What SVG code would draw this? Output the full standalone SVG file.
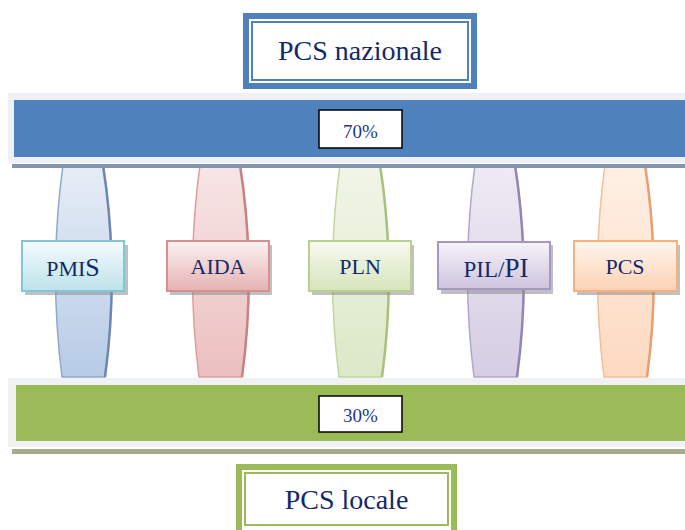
<svg xmlns="http://www.w3.org/2000/svg" width="685" height="530" viewBox="0 0 685 530">
<defs>
<style>
.t{font-family:"Liberation Serif","Times New Roman",serif;fill:#14296a;text-anchor:middle}
.pct{font-family:"Liberation Serif","Times New Roman",serif;fill:#1f3a80;text-anchor:middle;font-size:19px}
.lab{font-size:22px}
.sh{fill:#8c8c8c;opacity:0.55}
.bx{stroke-width:2}
</style>
<linearGradient id="gB" x1="0" y1="0" x2="0" y2="1"><stop offset="0" stop-color="#f5fbfd"/><stop offset="1" stop-color="#bde2eb"/></linearGradient>
<linearGradient id="gR" x1="0" y1="0" x2="0" y2="1"><stop offset="0" stop-color="#fcf2f2"/><stop offset="1" stop-color="#e5b2b2"/></linearGradient>
<linearGradient id="gG" x1="0" y1="0" x2="0" y2="1"><stop offset="0" stop-color="#f7faef"/><stop offset="1" stop-color="#d6e4bc"/></linearGradient>
<linearGradient id="gP" x1="0" y1="0" x2="0" y2="1"><stop offset="0" stop-color="#f6f4f9"/><stop offset="1" stop-color="#cdc4dd"/></linearGradient>
<linearGradient id="gO" x1="0" y1="0" x2="0" y2="1"><stop offset="0" stop-color="#fff6ef"/><stop offset="1" stop-color="#fcd1b3"/></linearGradient>
<linearGradient id="lB" x1="0" y1="0" x2="0" y2="1"><stop offset="0" stop-color="#e6edf6"/><stop offset="1" stop-color="#b7cbe6"/></linearGradient>
<linearGradient id="lR" x1="0" y1="0" x2="0" y2="1"><stop offset="0" stop-color="#f7e6e6"/><stop offset="1" stop-color="#ecbfbf"/></linearGradient>
<linearGradient id="lG" x1="0" y1="0" x2="0" y2="1"><stop offset="0" stop-color="#f1f6e8"/><stop offset="1" stop-color="#dce8c7"/></linearGradient>
<linearGradient id="lP" x1="0" y1="0" x2="0" y2="1"><stop offset="0" stop-color="#eeebf4"/><stop offset="1" stop-color="#d5cde4"/></linearGradient>
<linearGradient id="lO" x1="0" y1="0" x2="0" y2="1"><stop offset="0" stop-color="#fff0e5"/><stop offset="1" stop-color="#fdd9c0"/></linearGradient>
</defs>
<rect width="685" height="530" fill="#ffffff"/>

<g id="connectors">
<g id="lens-pmis">
<path d="M63,165 Q48.5,271 62,377 L105,377 Q119.5,271 103,165 Z" fill="url(#lB)" stroke="#8ea8cf" stroke-width="1.5"/>
<path d="M103,165 Q119.5,271 105,377" fill="none" stroke="#6f88b2" stroke-width="2.5"/>
</g>
<g id="lens-aida">
<path d="M200,165 Q185.5,271 199,377 L242,377 Q256.5,271 240,165 Z" fill="url(#lR)" stroke="#dc9d9d" stroke-width="1.5"/>
<path d="M240,165 Q256.5,271 242,377" fill="none" stroke="#c98282" stroke-width="2.5"/>
</g>
<g id="lens-pln">
<path d="M340,165 Q325.5,271 339,377 L382,377 Q396.5,271 380,165 Z" fill="url(#lG)" stroke="#c2d69e" stroke-width="1.5"/>
<path d="M380,165 Q396.5,271 382,377" fill="none" stroke="#a9c17c" stroke-width="2.5"/>
</g>
<g id="lens-pil">
<path d="M475,165 Q460.5,271 474,377 L517,377 Q531.5,271 515,165 Z" fill="url(#lP)" stroke="#b2a6cc" stroke-width="1.5"/>
<path d="M515,165 Q531.5,271 517,377" fill="none" stroke="#9486b3" stroke-width="2.5"/>
</g>
<g id="lens-pcs">
<path d="M605,165 Q590.5,271 604,377 L647,377 Q661.5,271 645,165 Z" fill="url(#lO)" stroke="#f5be96" stroke-width="1.5"/>
<path d="M645,165 Q661.5,271 647,377" fill="none" stroke="#e6a072" stroke-width="2.5"/>
</g>
</g>

<g id="bar-top">
<rect x="8" y="93" width="680" height="70" fill="#eff1f5"/>
<rect x="12" y="164" width="676" height="4" fill="#8595ad"/>
<rect x="14" y="100" width="675" height="57" fill="#4f81bd"/>
<rect x="319" y="110" width="83" height="38" fill="#ffffff" stroke="#000000" stroke-width="1.5"/>
<text class="pct" x="360.5" y="138">70%</text>
</g>

<g id="bar-bottom">
<rect x="8" y="378" width="680" height="69" fill="#eff1f2"/>
<rect x="12" y="449" width="676" height="5" fill="#a6ad8f"/>
<rect x="16" y="385" width="673" height="56" fill="#9bbb59"/>
<rect x="319" y="396" width="83" height="36" fill="#ffffff" stroke="#000000" stroke-width="1.5"/>
<text class="pct" x="360.5" y="422">30%</text>
</g>

<g id="node-pcs-nazionale">
<rect x="246" y="16" width="228" height="70" fill="#ffffff" stroke="#4f81bd" stroke-width="6"/>
<rect x="252" y="22" width="216" height="58" fill="none" stroke="#4f81bd" stroke-width="2"/>
<text class="t" x="360" y="60" font-size="28">PCS nazionale</text>
</g>

<g id="node-pmis">
<rect class="sh" x="25" y="245" width="103" height="50"/>
<rect class="bx" x="22" y="241" width="102" height="50" fill="url(#gB)" stroke="#80c7d7"/>
<text class="t" x="73" y="276"><tspan font-size="22">PMI</tspan><tspan font-size="26">S</tspan></text>
</g>
<g id="node-aida">
<rect class="sh" x="170" y="245" width="102" height="50"/>
<rect class="bx" x="167" y="241" width="102" height="50" fill="url(#gR)" stroke="#d98f8f"/>
<text class="t lab" x="218" y="274">AIDA</text>
</g>
<g id="node-pln">
<rect class="sh" x="312" y="245" width="102" height="50"/>
<rect class="bx" x="309" y="241" width="102" height="50" fill="url(#gG)" stroke="#b9d08e"/>
<text class="t lab" x="360" y="274">PLN</text>
</g>
<g id="node-pilpi">
<rect class="sh" x="441" y="245" width="112" height="49"/>
<rect class="bx" x="438" y="242" width="112" height="47" fill="url(#gP)" stroke="#a596c4"/>
<text class="t" x="496" y="277"><tspan font-size="23">PIL/</tspan><tspan font-size="27">PI</tspan></text>
</g>
<g id="node-pcs">
<rect class="sh" x="577" y="245" width="103" height="50"/>
<rect class="bx" x="574" y="241" width="103" height="50" fill="url(#gO)" stroke="#f8b07c"/>
<text class="t lab" x="625" y="274">PCS</text>
</g>

<g id="node-pcs-locale">
<rect x="239" y="467" width="215" height="66" fill="#ffffff" stroke="#9bbb59" stroke-width="6"/>
<rect x="245" y="473" width="203" height="52" fill="none" stroke="#9bbb59" stroke-width="2"/>
<text class="t" x="346.5" y="509" font-size="28">PCS locale</text>
</g>
</svg>
